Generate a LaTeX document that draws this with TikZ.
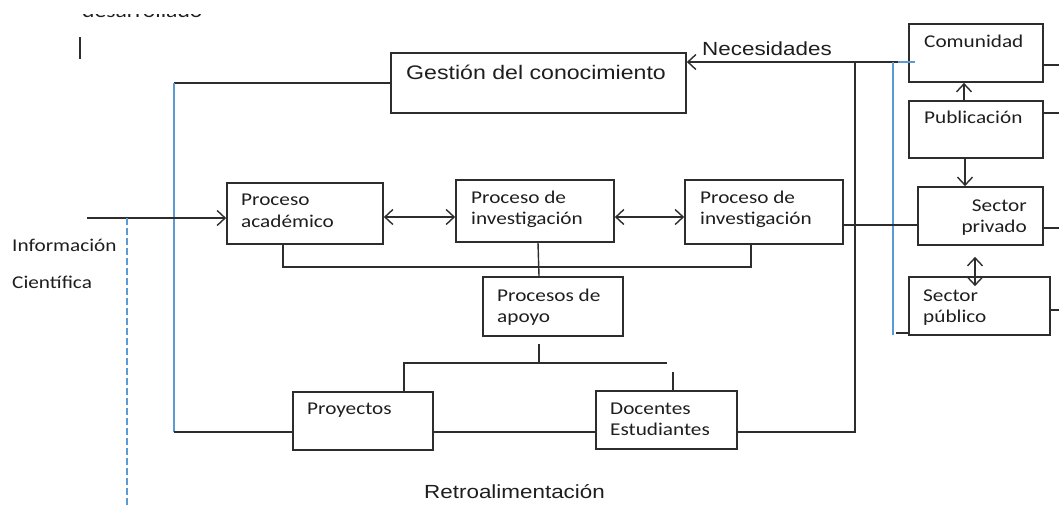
\documentclass[tikz,border=0pt]{standalone}
\usepackage{fontspec}
\usetikzlibrary{arrows.meta,calc}
\newfontfamily\calf[FakeStretch=1.18]{Carlito}
\newfontfamily\arf[FakeStretch=1.18]{Liberation Sans}
\definecolor{lblue}{RGB}{91,155,213}
\definecolor{ink}{RGB}{45,45,45}
\definecolor{tink}{RGB}{30,30,30}
\begin{document}
\begin{tikzpicture}[x=1pt,y=-1pt,
  box/.style={draw=ink,line width=1.7pt,rectangle,inner sep=0pt},
  ln/.style={draw=ink,line width=1.4pt},
  bl/.style={draw=lblue,line width=1.5pt},
  tip/.style={},
  arr/.style={ln,-{Straight Barb[length=8pt,width=15pt]}},
  darr/.style={ln,{Straight Barb[length=8pt,width=15pt]}-{Straight Barb[length=8pt,width=15pt]}},
  ct/.style={font=\calf\fontsize{18}{22}\selectfont,text=tink,anchor=base west,inner sep=0pt},
  cte/.style={ct,anchor=base east},
  atxt/.style={font=\arf\fontsize{19}{23}\selectfont,text=tink,anchor=base west,inner sep=0pt}]
\useasboundingbox (0,0) rectangle (1059,509);

% boxes
\node[box,minimum width=295pt,minimum height=60pt] (gest) at (538.5,83) {};
\node[box,minimum width=134pt,minimum height=58pt] (com) at (976,53) {};
\node[box,minimum width=134pt,minimum height=57pt] (pub) at (976,129.5) {};
\node[box,minimum width=125pt,minimum height=58pt] (spriv) at (980.5,216) {};
\node[box,minimum width=141pt,minimum height=58pt] (spub) at (979.5,306) {};
\node[box,minimum width=156pt,minimum height=61pt] (acad) at (305,213.5) {};
\node[box,minimum width=158pt,minimum height=62pt] (inv1) at (535,211) {};
\node[box,minimum width=158pt,minimum height=64pt] (inv2) at (764,212) {};
\node[box,minimum width=140pt,minimum height=59pt] (apoyo) at (553,306.5) {};
\node[box,minimum width=140pt,minimum height=58pt] (proy) at (363,421) {};
\node[box,minimum width=141pt,minimum height=58pt] (doc) at (666.5,420) {};

% texts
\node[atxt,font=\arf\fontsize{19.6}{23}\selectfont] (tgest) at (406,79) {Gesti\'on del conocimiento};
\node[atxt] (tnec) at (702,55) {Necesidades};
\node[atxt] (tretro) at (424,498) {Retroalimentaci\'on};
\node[ct] (tcom) at (924,47) {Comunidad};
\node[ct] (tpub) at (924,123) {Publicaci\'on};
\node[cte] (tsp1) at (1027,211) {Sector};
\node[cte] (tsp2) at (1027,232) {privado};
\node[ct] (tsu1) at (923,301) {Sector};
\node[ct] (tsu2) at (923,322) {p\'ublico};
\node[ct] (tac1) at (241,205) {Proceso};
\node[ct] (tac2) at (241,227) {acad\'emico};
\node[ct] (ti11) at (471,203) {Proceso de};
\node[ct] (ti12) at (471,224) {investigaci\'on};
\node[ct] (ti21) at (700,203) {Proceso de};
\node[ct] (ti22) at (700,224) {investigaci\'on};
\node[ct] (tap1) at (497,301) {Procesos de};
\node[ct] (tap2) at (497,322) {apoyo};
\node[ct] (tpro) at (307,414) {Proyectos};
\node[ct] (tdo1) at (610,414) {Docentes};
\node[ct] (tdo2) at (610,435) {Estudiantes};
\node[ct] (tinf1) at (12,251) {Informaci\'on};
\node[ct] (tinf2) at (12,288) {Cient\'ifica};
\begin{scope}
\clip (60,14) rectangle (230,26);
\node[ct,font=\calf\fontsize{20}{24}\selectfont] (ttop) at (82,17) {desarrollado};
\end{scope}
\coordinate (cur1) at (80,37); \coordinate (cur2) at (80,59);
\draw[ink,line width=1.4pt] (cur1) -- (cur2);

% left feedback loop
\coordinate (gl) at (174,83);
\coordinate (gb) at (174,432);
\draw[ln] (gest.west) -- (gl);
\draw[bl] (gl) -- (gb);
\draw[ln] (gb) -- (gb -| proy.west);
\draw[ln] (gb -| proy.east) -- (gb -| doc.west);
\coordinate (nb) at (855,432);
\coordinate (nt) at (855,62);
\draw[ln] (gb -| doc.east) -- (nb) -- (nt);

% Necesidades
\coordinate (ne) at (898,62);
\coordinate (ne2) at (915,62);
\draw[arr] (ne) -- (ne -| gest.east);
\draw[bl] (ne) -- (ne2);

% blue vertical on right
\coordinate (bt) at (893,62);
\coordinate (bb) at (893,335);
\draw[bl] (bt) -- (bb);
\coordinate (ps) at (896,333);
\draw[ln] (ps) -- (ps -| spub.west);

% inv2 to sector privado
\coordinate (i2e) at ($(inv2.east)+(0,13)$);
\draw[ln] (i2e) -- (i2e -| spriv.west);

% input
\coordinate (inp) at (87,218);
\draw[arr] (inp) -- (inp -| acad.west);
\coordinate (dsh1) at (127,218);
\coordinate (dsh2) at (127,505);
\draw[bl,dash pattern=on 7pt off 3pt] (dsh1) -- (dsh2);

% double arrows
\coordinate (da) at (383,217);
\draw[darr] (acad.east |- da) -- (inv1.west |- da);
\draw[darr] (inv1.east |- da) -- (inv2.west |- da);

% bracket under processes
\draw[ln] ($(acad.south)+(-22,0)$) -- ++(0,22) -| ($(inv2.south)+(-13,0)$);
\draw[ln] ($(inv1.south)+(3,0)$) -- ($(apoyo.north)+(-14,0)$);

% apoyo to projects
\coordinate (hl) at (404,363);
\coordinate (hr) at (667,363);
\draw[ln] ($(apoyo.south)+(-14,7)$) -- ++(0,20);
\draw[ln] (hr) -- (hl) -- (hl |- proy.north);
\coordinate (ds) at (673,372);
\draw[ln] (ds) -- (ds |- doc.north);

% right column
\draw[arr] ($(pub.north)+(-12,0)$) -- ($(com.south)+(-12,0)$);
\coordinate (ps1) at ($(pub.south)+(-11,0)$);
\draw[arr] (ps1) -- (ps1 |- spriv.north);
\draw[darr] ($(spriv.south)+(-5.5,11)$) -- ($(spub.north)+(-4.5,10)$);

% right stubs
\draw[ln] ($(com.east)+(0,12)$) -- ++(16,0);
\draw[ln] ($(pub.east)+(0,-16.5)$) -- ++(16,0);
\draw[ln] ($(spriv.east)+(0,12)$) -- ++(16,0);
\draw[ln] ($(spub.east)+(0,4)$) -- ++(9,0);
\end{tikzpicture}
\end{document}
